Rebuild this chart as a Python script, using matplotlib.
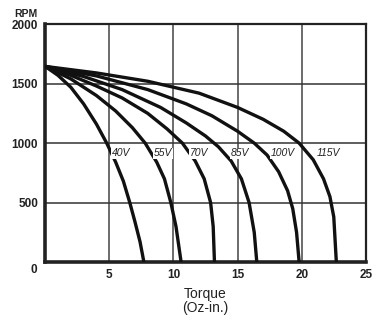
import matplotlib
matplotlib.use("Agg")
import matplotlib.pyplot as plt

plt.rcParams['font.family'] = ['Liberation Sans', 'DejaVu Sans']

# torque (oz-in) / speed (rpm), one curve per voltage
volts = ['40V', '55V', '70V', '85V', '100V', '115V']
torque = [
    [0, 1.0, 2.0, 3.0, 4.0, 4.8, 5.5, 6.1, 6.6, 7.0, 7.4, 7.7],
    [0, 2.0, 4.0, 5.5, 6.8, 7.8, 8.7, 9.3, 9.8, 10.2, 10.6],
    [0, 2.0, 4.0, 6.0, 8.0, 9.5, 10.7, 11.7, 12.4, 12.9, 13.1, 13.2],
    [0, 3.0, 6.0, 9.0, 11.0, 12.5, 13.5, 14.5, 15.3, 15.9, 16.3, 16.5],
    [0, 4.0, 8.0, 11.0, 13.0, 15.0, 16.3, 17.3, 18.2, 18.9, 19.3, 19.6, 19.8],
    [0, 4.0, 8.0, 12.0, 15.0, 17.0, 18.6, 19.8, 20.9, 21.7, 22.2, 22.5, 22.7],
]
rpm = [
    [1645, 1570, 1470, 1330, 1160, 1000, 840, 680, 500, 340, 170, 0],
    [1645, 1540, 1400, 1270, 1130, 1000, 840, 700, 500, 300, 0],
    [1645, 1570, 1480, 1380, 1250, 1120, 1000, 850, 700, 500, 300, 0],
    [1645, 1560, 1450, 1300, 1170, 1060, 970, 850, 700, 500, 250, 0],
    [1645, 1565, 1450, 1330, 1230, 1100, 1000, 900, 760, 600, 450, 250, 0],
    [1645, 1590, 1520, 1420, 1300, 1200, 1100, 1000, 860, 700, 550, 380, 0],
]
label_x = [5.2, 8.5, 11.3, 14.5, 17.6, 21.2]
xticks = [5, 10, 15, 20, 25]
yticks = [500, 1000, 1500, 2000]

fig = plt.figure(figsize=(3.76, 3.22), dpi=100)
ax = fig.add_axes([0.12, 0.186, 0.853, 0.739])

for v in [5, 10, 15, 20]:
    ax.axvline(v, color='#444444', lw=1.1, zorder=1)
for v in [500, 1000, 1500]:
    ax.axhline(v, color='#333333', lw=1.1, zorder=1)

for t, r in zip(torque, rpm):
    ax.plot(t, r, color='#111111', lw=2.4, solid_capstyle='butt',
            solid_joinstyle='round', zorder=3)

for lx, name in zip(label_x, volts):
    ax.text(lx, 915, name, fontsize=7.5, va='center', ha='left', color='#222222',
            style='italic', zorder=4,
            bbox=dict(facecolor='white', edgecolor='none', pad=0.5))

ax.set_xlim(0, 25)
ax.set_ylim(0, 2000)
ax.set_xticks(xticks)
ax.set_yticks(yticks)
ax.tick_params(length=0, labelsize=8.5, pad=5)
for lab in ax.get_xticklabels() + ax.get_yticklabels():
    lab.set_fontweight('bold')
    lab.set_color('#222222')

for side in ['left', 'bottom']:
    ax.spines[side].set_linewidth(2.6)
for side in ['top', 'right']:
    ax.spines[side].set_linewidth(1.6)
for s in ax.spines.values():
    s.set_color('#222222')

ax.text(-0.6, -70, '0', fontsize=8.5, fontweight='bold', ha='right', va='center', color='#222222')
ax.text(-1.5, 2040, 'RPM', fontsize=7.5, fontweight='bold', ha='center', va='bottom', color='#222222')
ax.set_xlabel('Torque\n(Oz-in.)', fontsize=10, linespacing=1.0, labelpad=4, color='#222222')

fig.savefig('out.png', dpi=100)
